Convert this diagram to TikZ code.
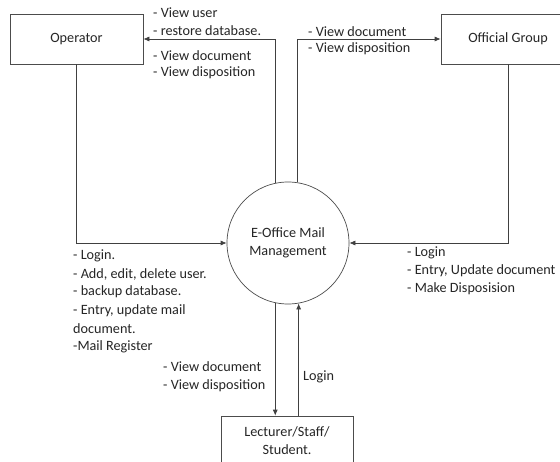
\documentclass[tikz,border=0pt]{standalone}
\usepackage{fontspec}
\setmainfont{Carlito}
\usetikzlibrary{arrows.meta}
\begin{document}
\begin{tikzpicture}[x=1pt,y=-1pt,
  every node/.style={font=\fontsize{14.2}{18}\selectfont, text=black!85},
  entity/.style={draw=black!70, line width=0.7pt, minimum width=133pt, minimum height=50pt, inner sep=0pt, align=center},
  proc/.style={draw=black!70, line width=0.7pt, circle, minimum size=122pt, inner sep=0pt, align=center},
  flow/.style={draw=black!75, line width=0.7pt, -{Latex[length=6pt,width=5pt]}},
  lbl/.style={anchor=west, inner sep=0pt, align=left}]
\useasboundingbox (0,0) rectangle (560,461);
\fill[white] (0,0) rectangle (560,461);
\clip (0,0) rectangle (560,461);
\node[entity] (op) at (76.5,39) {Operator};
\node[entity, minimum width=134pt] (og) at (508,39) {Official Group};
\node[proc] (eo) at (288,243) {E-Office Mail\\Management};
\node[entity, minimum width=132pt] (lec) at (287,441) {Lecturer/Staff/\\Student.};
% flows
\draw[flow] (eo.102) |- (op.east);
\draw[flow] (eo.81.5) |- (og.west);
\draw[flow] (op.south) |- (eo.west);
\draw[flow] (og.south) |- (eo.east);
\draw[flow] (eo.258) -- (eo.258 |- lec.north);
\draw[flow] (eo.280 |- lec.north) -- (eo.280);
% labels
\node[lbl] (l1) at (153,13) {- View user};
\node[lbl] (l2) at (153,31) {- restore database.};
\node[lbl] (l3) at (153,56) {- View document};
\node[lbl] (l4) at (153,73) {- View disposition};
\node[lbl] (r1) at (308,32) {- View document};
\node[lbl] (r2) at (308,49) {- View disposition};
\node[lbl] (a1) at (73,256) {- Login.};
\node[lbl] (a2) at (73,274) {- Add, edit, delete user.};
\node[lbl] (a3) at (73,292) {- backup database.};
\node[lbl] (a4) at (73,311) {- Entry, update mail};
\node[lbl] (a5) at (73,329) {document.};
\node[lbl] (a6) at (73,347) {-Mail Register};
\node[lbl] (b1) at (407,253) {- Login};
\node[lbl] (b2) at (407,271) {- Entry, Update document};
\node[lbl] (b3) at (407,289) {- Make Disposision};
\node[lbl] (c1) at (163,367) {- View document};
\node[lbl] (c2) at (163,386) {- View disposition};
\node[lbl] (c3) at (303,377) {Login};
\end{tikzpicture}
\end{document}
